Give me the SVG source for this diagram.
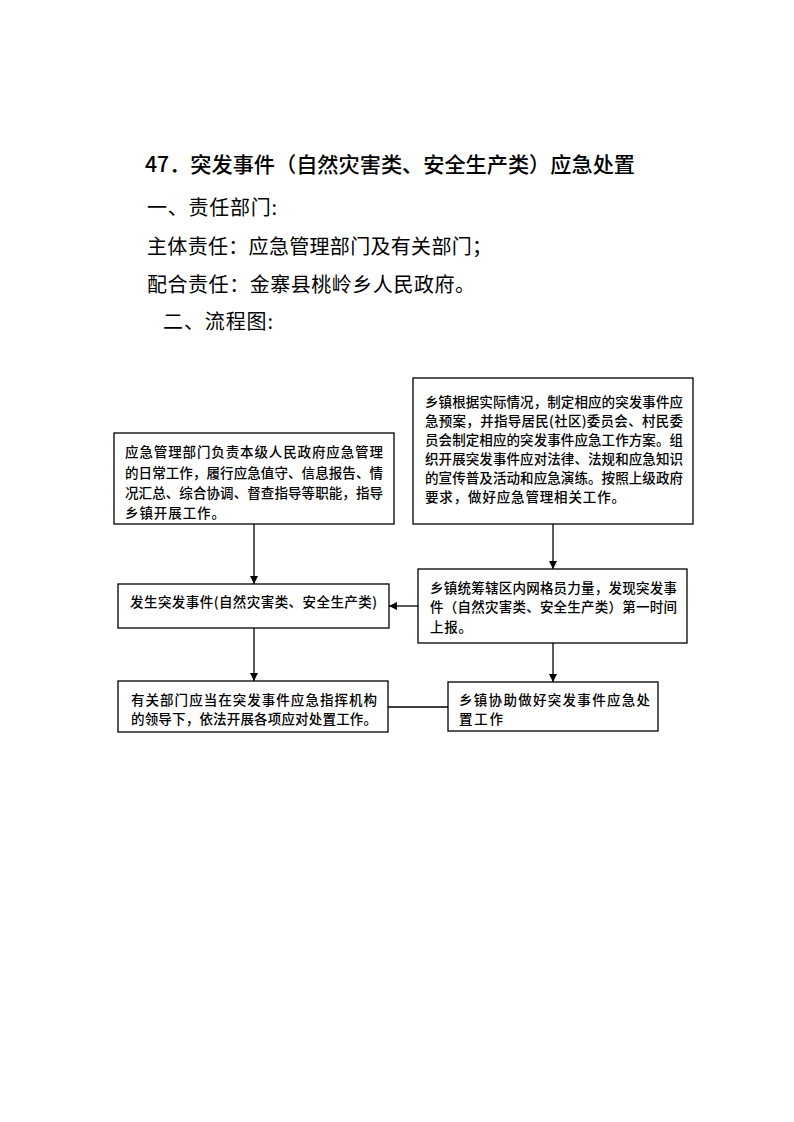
<svg xmlns="http://www.w3.org/2000/svg" width="794" height="1122" viewBox="0 0 794 1122">
<style>
.hd{font-family:"Noto Sans CJK SC","Noto Sans",sans-serif;font-size:20px;fill:#000}
.tt{font-family:"Noto Sans CJK SC","Noto Sans",sans-serif;font-size:21px;font-weight:500;fill:#000}
.bx{fill:#fff;stroke:#000;stroke-width:1.3}
.t{font-family:"Noto Sans CJK SC","Noto Sans",sans-serif;font-size:13.5px;font-weight:500;fill:#000}
.ln{stroke:#000;stroke-width:1.3;fill:none}
</style>
<defs>
<marker id="ah" viewBox="0 0 10 10" refX="10" refY="5" markerWidth="8" markerHeight="8" markerUnits="userSpaceOnUse" orient="auto">
<path d="M0,0 L10,5 L0,10 Z" fill="#000"/>
</marker>
</defs>
<rect width="794" height="1122" fill="#fff"/>
<g id="header">
<text class="tt" x="145" y="172" textLength="490" lengthAdjust="spacingAndGlyphs">47．突发事件（自然灾害类、安全生产类）应急处置</text>
<text class="hd" x="147" y="215" textLength="130" lengthAdjust="spacing">一、责任部门:</text>
<text class="hd" x="147" y="254" textLength="345" lengthAdjust="spacing">主体责任：应急管理部门及有关部门；</text>
<text class="hd" x="147" y="292" textLength="328" lengthAdjust="spacing">配合责任：金寨县桃岭乡人民政府。</text>
<text class="hd" x="163" y="329" textLength="110" lengthAdjust="spacing">二、流程图:</text>
</g>
<g id="connectors">
<line class="ln" x1="254" y1="524" x2="254" y2="584" marker-end="url(#ah)"/>
<line class="ln" x1="254" y1="628" x2="254" y2="681" marker-end="url(#ah)"/>
<line class="ln" x1="553" y1="524" x2="553" y2="569" marker-end="url(#ah)"/>
<line class="ln" x1="553" y1="643" x2="553" y2="682" marker-end="url(#ah)"/>
<line class="ln" x1="418" y1="606" x2="389" y2="606" marker-end="url(#ah)"/>
<line class="ln" x1="388" y1="707" x2="448" y2="707"/>
</g>
<g id="n1">
<rect class="bx" x="114" y="433" width="280" height="91"/>
<text class="t" x="125" y="457" textLength="258" lengthAdjust="spacing">应急管理部门负责本级人民政府应急管理</text>
<text class="t" x="125" y="478" textLength="258" lengthAdjust="spacing">的日常工作，履行应急值守、信息报告、情</text>
<text class="t" x="125" y="498" textLength="258" lengthAdjust="spacing">况汇总、综合协调、督查指导等职能，指导</text>
<text class="t" x="125" y="518" textLength="100" lengthAdjust="spacing">乡镇开展工作。</text>
</g>
<g id="n2">
<rect class="bx" x="413" y="378" width="280" height="146"/>
<text class="t" x="425" y="407" textLength="258" lengthAdjust="spacing">乡镇根据实际情况，制定相应的突发事件应</text>
<text class="t" x="425" y="426" textLength="258" lengthAdjust="spacing">急预案，并指导居民(社区)委员会、村民委</text>
<text class="t" x="425" y="445" textLength="258" lengthAdjust="spacing">员会制定相应的突发事件应急工作方案。组</text>
<text class="t" x="425" y="464" textLength="258" lengthAdjust="spacing">织开展突发事件应对法律、法规和应急知识</text>
<text class="t" x="425" y="483" textLength="258" lengthAdjust="spacing">的宣传普及活动和应急演练。按照上级政府</text>
<text class="t" x="425" y="502" textLength="200" lengthAdjust="spacing">要求，做好应急管理相关工作。</text>
</g>
<g id="n3">
<rect class="bx" x="118" y="584" width="271" height="44"/>
<text class="t" x="130" y="607" textLength="247" lengthAdjust="spacing">发生突发事件(自然灾害类、安全生产类)</text>
</g>
<g id="n4">
<rect class="bx" x="118" y="681" width="270" height="51"/>
<text class="t" x="131" y="705" textLength="246" lengthAdjust="spacing">有关部门应当在突发事件应急指挥机构</text>
<text class="t" x="131" y="724" textLength="246" lengthAdjust="spacing">的领导下，依法开展各项应对处置工作。</text>
</g>
<g id="n5">
<rect class="bx" x="418" y="569" width="269" height="74"/>
<text class="t" x="430" y="593" textLength="247" lengthAdjust="spacing">乡镇统筹辖区内网格员力量，发现突发事</text>
<text class="t" x="430" y="612" textLength="247" lengthAdjust="spacing">件（自然灾害类、安全生产类）第一时间</text>
<text class="t" x="430" y="632" textLength="42" lengthAdjust="spacing">上报。</text>
</g>
<g id="n6">
<rect class="bx" x="448" y="682" width="210" height="49"/>
<text class="t" x="459" y="705" textLength="191" lengthAdjust="spacing">乡镇协助做好突发事件应急处</text>
<text class="t" x="459" y="724" textLength="44" lengthAdjust="spacing">置工作</text>
</g>
</svg>
